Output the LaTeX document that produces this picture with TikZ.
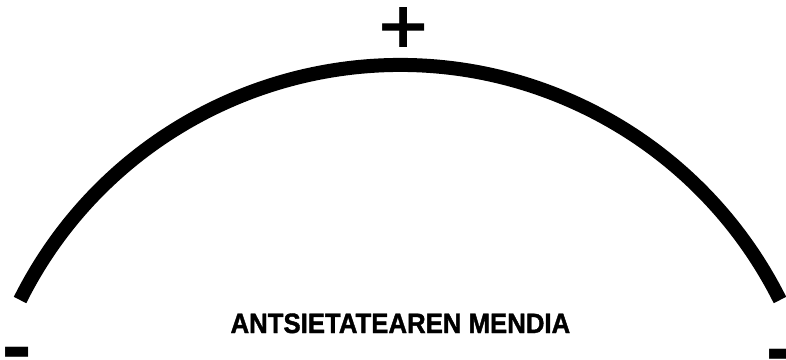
\documentclass[tikz,border=0pt]{standalone}
\usepackage{fontspec}
\usepackage{graphicx}
\setmainfont{Liberation Sans}
\newfontfamily\signfont{DejaVu Sans}
\newfontfamily\lblfont[FakeBold=1.5]{Liberation Sans Bold}
\newdimen\inkL \newdimen\inkT \newdimen\inkR \newdimen\inkB
\newdimen\inkW \newdimen\inkH
\newcommand\inkfit[3]{%
  \inkL=\XeTeXglyphbounds1 \XeTeXcharglyph`#1\relax
  \inkT=\XeTeXglyphbounds2 \XeTeXcharglyph`#1\relax
  \inkR=\XeTeXglyphbounds3 \XeTeXcharglyph`#1\relax
  \inkB=\XeTeXglyphbounds4 \XeTeXcharglyph`#1\relax
  \setbox0=\hbox{#1}%
  \inkW=\dimexpr\wd0-\inkL-\inkR\relax
  \inkH=\dimexpr\inkT+\inkB\relax
  \pgfmathsetmacro\inksx{(#2)/(\inkW)}%
  \pgfmathsetmacro\inksy{(#3)/(\inkH)}%
  \hbox to #2{\smash{\raisebox{\inksy\inkB}{\scalebox{\inksx}[\inksy]{\kern-\inkL #1\kern-\inkR}}}\rule{0pt}{#3}\hss}%
}
\begin{document}
\begin{tikzpicture}[x=1pt,y=1pt,
  arcline/.style={line width=14pt,line cap=butt},
  sign/.style={inner sep=0pt,outer sep=0pt,anchor=south west,font=\signfont\bfseries\fontsize{50}{50}\selectfont},
  lbl/.style={inner sep=0pt,font=\lblfont\fontsize{28}{28}\selectfont}]
\useasboundingbox (0,0) rectangle (786,359);
\coordinate (c) at (400,-130.7);
\draw[arcline] (c) ++(153.47:424.7) coordinate (le) arc (153.47:26.53:424.7) coordinate (re);
\node[sign] (plus) at (383,311.7) {\inkfit{+}{42pt}{40pt}};
\node[sign] (mL) at (6,2) {\inkfit{-}{23pt}{10pt}};
\node[sign] (mR) at (770,0) {\inkfit{-}{23pt}{10pt}};
\node[lbl,anchor=base] (t) at (400.4,26) {\scalebox{0.92}[1]{ANTSIETATEAREN MENDIA}};
\end{tikzpicture}
\end{document}
